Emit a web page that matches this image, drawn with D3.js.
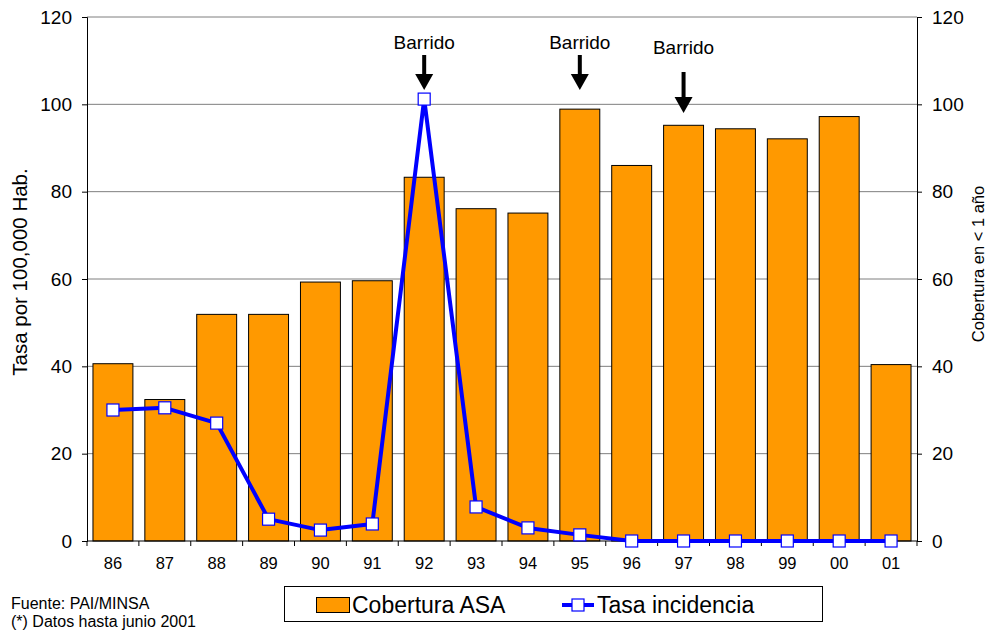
<!DOCTYPE html>
<html><head><meta charset="utf-8">
<script src="https://cdn.jsdelivr.net/npm/d3@7"></script>
<style>body{margin:0;background:#fff}svg{font-family:"Liberation Sans",Arial,sans-serif}</style>
</head><body><svg id="c" width="986" height="632"></svg>
<script>
const years = ["86","87","88","89","90","91","92","93","94","95","96","97","98","99","00","01"];
const cobertura = [40.6,32.4,51.9,51.9,59.3,59.6,83.3,76.1,75.1,98.9,86.0,95.2,94.4,92.1,97.2,40.4];
const tasa = [30.0,30.5,27.0,5.0,2.5,3.9,101.2,7.8,3.0,1.4,0,0,0,0,0,0];
const yTicks = [0,20,40,60,80,100,120];
const barridos = [{year:"92", dy:0},{year:"95", dy:0},{year:"97", dy:1}];

const svg = d3.select("#c");
const L=87, R=917, T=17, B=541;
const x = d3.scaleBand().domain(years).range([L,R]).paddingInner(0.23).paddingOuter(0.115);
const y = d3.scaleLinear().domain([0,120]).range([B,T]);
const y2 = d3.scaleLinear().domain([0,120]).range([B,T]);

svg.append("g").selectAll("line").data(yTicks.filter(d=>d>0)).join("line")
  .attr("x1",L).attr("x2",R).attr("y1",d=>y(d)).attr("y2",d=>y(d))
  .attr("stroke","#7f7f7f").attr("stroke-width",1);

svg.append("g").selectAll("rect").data(years).join("rect")
  .attr("x",d=>x(d)).attr("width",x.bandwidth())
  .attr("y",(d,i)=>y2(cobertura[i])).attr("height",(d,i)=>B-y2(cobertura[i]))
  .attr("fill","#ff9900").attr("stroke","#000").attr("stroke-width",1);

const gl = svg.append("g").attr("transform",`translate(${L},0)`)
  .call(d3.axisLeft(y).tickValues(yTicks).tickSize(5).tickPadding(10));
const gr = svg.append("g").attr("transform",`translate(${R},0)`)
  .call(d3.axisRight(y2).tickValues(yTicks).tickSize(5).tickPadding(10));
const step = x.step();
const gb = svg.append("g").attr("transform",`translate(0,${B})`)
  .call(d3.axisBottom(x).tickSize(0).tickPadding(16));
gb.selectAll(".tick").append("line").attr("x1",-step/2).attr("x2",-step/2).attr("y2",5).attr("stroke","#000");
gb.append("line").attr("x1",R).attr("x2",R).attr("y2",5).attr("stroke","#000");
[gl,gr,gb].forEach(g=>{
  g.selectAll("text").attr("font-size",19).attr("fill","#000").attr("font-family","Liberation Sans, Arial, sans-serif");
  g.select(".domain").attr("stroke","#000");
  g.selectAll(".tick line").attr("stroke","#000");
});
gb.select(".domain").attr("d",`M${L},0H${R}`);
gb.selectAll("text").attr("font-size",16.5);

const line = d3.line().x((d,i)=>x(years[i])+x.bandwidth()/2).y(d=>y(d));
svg.append("path").datum(tasa).attr("d",line).attr("fill","none")
  .attr("stroke","#0000ff").attr("stroke-width",4).attr("stroke-linejoin","round");
svg.append("g").selectAll("rect").data(tasa).join("rect")
  .attr("x",(d,i)=>x(years[i])+x.bandwidth()/2-6).attr("y",d=>y(d)-6)
  .attr("width",12).attr("height",12).attr("fill","#fff").attr("stroke","#0000ff").attr("stroke-width",1.2);

svg.append("text").attr("transform",`translate(27,272) rotate(-90)`)
  .attr("text-anchor","middle").attr("font-size",20.5).text("Tasa por 100,000 Hab.");
svg.append("text").attr("transform",`translate(984,264) rotate(-90)`)
  .attr("text-anchor","middle").attr("font-size",16.5).text("Cobertura en < 1 año");

barridos.forEach(b=>{
  const cx = x(b.year)+x.bandwidth()/2;
  const base = b.dy ? 54 : 49;
  svg.append("text").attr("x",cx).attr("y",base).attr("text-anchor","middle").attr("font-size",19).text("Barrido");
  const y0 = b.dy ? 72 : 55, y1 = b.dy ? 113 : 90;
  svg.append("line").attr("x1",cx).attr("x2",cx).attr("y1",y0).attr("y2",y1-12).attr("stroke","#000").attr("stroke-width",4);
  svg.append("path").attr("d",`M${cx-9},${y1-16}L${cx+9},${y1-16}L${cx},${y1}Z`).attr("fill","#000");
});

svg.append("text").attr("x",11).attr("y",609).attr("font-size",16).text("Fuente: PAI/MINSA");
svg.append("text").attr("x",11).attr("y",627).attr("font-size",16).text("(*) Datos hasta junio 2001");

const lg = svg.append("g");
lg.append("rect").attr("x",284.5).attr("y",586.5).attr("width",538).attr("height",35).attr("fill","#fff").attr("stroke","#000");
lg.append("rect").attr("x",316.5).attr("y",597.5).attr("width",33).attr("height",15).attr("fill","#ff9900").attr("stroke","#000");
lg.append("text").attr("x",352).attr("y",613).attr("font-size",23).text("Cobertura ASA");
lg.append("line").attr("x1",562).attr("x2",594).attr("y1",605).attr("y2",605).attr("stroke","#0000ff").attr("stroke-width",4);
lg.append("rect").attr("x",572).attr("y",599).attr("width",12).attr("height",12).attr("fill","#fff").attr("stroke","#0000ff").attr("stroke-width",1.2);
lg.append("text").attr("x",597).attr("y",613).attr("font-size",23).text("Tasa incidencia");
</script></body></html>
